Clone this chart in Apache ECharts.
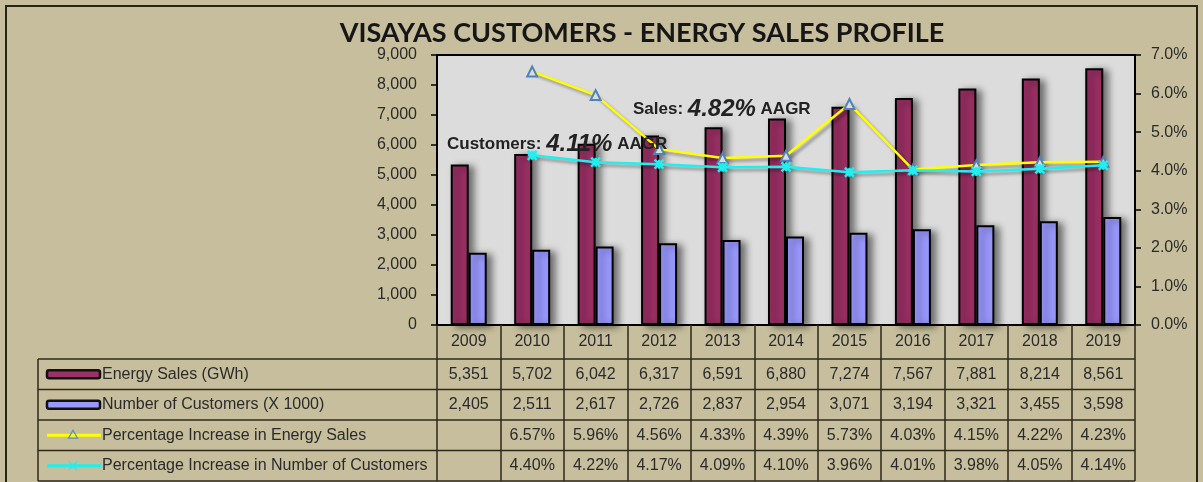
<!DOCTYPE html>
<html>
<head>
<meta charset="utf-8">
<script src="https://cdn.jsdelivr.net/npm/echarts@6/dist/echarts.min.js"></script>
<style>
  html, body { margin: 0; padding: 0; background: #c6be9c; }
  #chart { width: 1203px; height: 482px; }
</style>
</head>
<body>
<div id="chart"></div>
<script>
// values
const years = ['2009', '2010', '2011', '2012', '2013', '2014', '2015', '2016', '2017', '2018', '2019']
const energySales = [5351, 5702, 6042, 6317, 6591, 6880, 7274, 7567, 7881, 8214, 8561]
const customers = [2405, 2511, 2617, 2726, 2837, 2954, 3071, 3194, 3321, 3455, 3598]
const salesGrowth = [null, 6.57, 5.96, 4.56, 4.33, 4.39, 5.73, 4.03, 4.15, 4.22, 4.23]
const customerGrowth = [null, 4.40, 4.22, 4.17, 4.09, 4.10, 3.96, 4.01, 3.98, 4.05, 4.14]
const seriesNames = [
  'Energy Sales (GWh)',
  'Number of Customers (X 1000)',
  'Percentage Increase in Energy Sales',
  'Percentage Increase in Number of Customers'
]

// layout
const grid = { left: 437, top: 55, width: 698, height: 270 }
const tableLeft = 38
const yearRowH = 34
const rowH = 30.5
const lineColor = '#2e281a'
const textColor = '#2b2b2b'
const font = '"Liberation Sans", Arial, sans-serif'
const bottom = grid.top + grid.height

const fmtInt = v => v.toLocaleString('en-US')
const fmtPct = v => (v == null ? '' : v.toFixed(2) + '%')

const rows = [
  { cells: energySales.map(fmtInt), icon: 'bar', color: '#993366' },
  { cells: customers.map(fmtInt), icon: 'bar', color: '#9999ff' },
  { cells: salesGrowth.map(fmtPct), icon: 'tri', color: '#ffff00' },
  { cells: customerGrowth.map(fmtPct), icon: 'star', color: '#22eeee' }
]

const starPath = 'path://M0,0L10,10M10,0L0,10M5,0L5,10M0,5L10,5'

const labelStyle = { color: textColor, fontSize: 16, fontFamily: font }

// one extra category axis per table row, so the cells sit on the x scale
const rowAxes = rows.map((r, i) => ({
  type: 'category',
  data: years,
  position: 'bottom',
  offset: yearRowH + i * rowH,
  axisLine: { show: false },
  axisTick: { show: false },
  axisLabel: Object.assign({
    interval: 0, margin: rowH / 2, verticalAlign: 'middle',
    formatter: (v, idx) => r.cells[idx]
  }, labelStyle)
}))

function tableGraphics() {
  const els = []
  const right = grid.left + grid.width
  const tableBottom = bottom + yearRowH + rows.length * rowH
  for (let i = 0; i <= rows.length; i++) {
    const y = bottom + yearRowH + i * rowH
    els.push({ type: 'line', shape: { x1: tableLeft, y1: y, x2: right, y2: y }, style: { stroke: lineColor, lineWidth: 1.5 } })
  }
  els.push({ type: 'line', shape: { x1: tableLeft, y1: bottom + yearRowH, x2: tableLeft, y2: tableBottom }, style: { stroke: lineColor, lineWidth: 1.5 } })
  rows.forEach((r, i) => {
    const cy = bottom + yearRowH + i * rowH + rowH / 2
    if (r.icon === 'bar') {
      els.push({ type: 'rect', shape: { x: 47, y: cy - 4, width: 53, height: 8, r: 2 }, style: { fill: r.color, stroke: '#111', lineWidth: 2.5 } })
    } else {
      els.push({ type: 'line', shape: { x1: 47, y1: cy, x2: 101, y2: cy }, style: { stroke: r.color, lineWidth: 3 } })
      if (r.icon === 'tri') {
        els.push({ type: 'polygon', shape: { points: [[73, cy - 5], [77.5, cy + 3], [68.5, cy + 3]] }, style: { fill: 'rgba(0,0,0,0)', stroke: '#5b8db8', lineWidth: 1.2 } })
      } else {
        els.push({ type: 'polyline', shape: { points: [[69, cy - 4], [77, cy + 4]] }, style: { stroke: r.color, lineWidth: 1.5 } })
        els.push({ type: 'polyline', shape: { points: [[77, cy - 4], [69, cy + 4]] }, style: { stroke: r.color, lineWidth: 1.5 } })
      }
    }
    els.push({ type: 'text', x: 102, y: cy, style: { text: seriesNames[i], fill: textColor, font: '16px ' + font, verticalAlign: 'middle' } })
  })
  return els
}

function aagrText(x, y, label, value) {
  return {
    type: 'text', x: x, y: y,
    style: {
      text: '{a|' + label + ' }{b|' + value + '}{a| AAGR}',
      verticalAlign: 'bottom',
      rich: {
        a: { fontFamily: font, fontWeight: 'bold', fontSize: 17, fill: '#222', lineHeight: 22 },
        b: { fontFamily: font, fontWeight: 'bold', fontStyle: 'italic', fontSize: 24, fill: '#222', lineHeight: 22 }
      }
    },
    z: 10
  }
}

const chart = echarts.init(document.getElementById('chart'))

chart.setOption({
  backgroundColor: '#c6be9c',
  animation: false,
  title: {
    text: 'VISAYAS CUSTOMERS - ENERGY SALES PROFILE',
    left: 637, top: 15, textAlign: 'center',
    textStyle: { fontFamily: 'Lato, sans-serif', fontWeight: 'bold', fontSize: 27, color: '#161616' }
  },
  grid: Object.assign({ show: true, backgroundColor: '#dcdcdc', borderColor: '#000', borderWidth: 2 }, grid),
  xAxis: [{
    type: 'category',
    data: years,
    axisLine: { lineStyle: { color: '#000', width: 2 } },
    axisTick: { show: true, interval: 0, length: yearRowH + rows.length * rowH, lineStyle: { color: lineColor, width: 1.5 } },
    axisLabel: Object.assign({ interval: 0, margin: yearRowH / 2, verticalAlign: 'middle' }, labelStyle)
  }].concat(rowAxes),
  yAxis: [{
    type: 'value', min: 0, max: 9000, interval: 1000,
    axisLine: { show: true, lineStyle: { color: '#000', width: 2 } },
    axisTick: { show: true, length: 6, lineStyle: { color: '#000', width: 1.5 } },
    splitLine: { show: false },
    axisLabel: Object.assign({ margin: 20, formatter: fmtInt }, labelStyle)
  }, {
    type: 'value', min: 0, max: 7, interval: 1, position: 'right',
    axisLine: { show: true, lineStyle: { color: '#000', width: 2 } },
    axisTick: { show: true, length: 6, lineStyle: { color: '#000', width: 1.5 } },
    splitLine: { show: false },
    axisLabel: Object.assign({ margin: 16, formatter: v => v.toFixed(1) + '%' }, labelStyle)
  }],
  series: [{
    name: seriesNames[0], type: 'bar', data: energySales, barWidth: 18, barGap: '0%',
    itemStyle: { color: '#9b2f64', borderColor: '#000', borderWidth: 2, shadowColor: 'rgba(0,0,0,0.5)', shadowBlur: 7, shadowOffsetX: 5, shadowOffsetY: 2 }
  }, {
    name: seriesNames[1], type: 'bar', data: customers, barWidth: 18,
    itemStyle: { color: '#9999ff', borderColor: '#000', borderWidth: 2, shadowColor: 'rgba(0,0,0,0.5)', shadowBlur: 7, shadowOffsetX: 5, shadowOffsetY: 2 }
  }, {
    name: seriesNames[2], type: 'line', yAxisIndex: 1, data: salesGrowth, z: 5,
    symbol: 'triangle', symbolSize: 10,
    lineStyle: { color: '#ffff00', width: 2.5, shadowColor: 'rgba(0,0,0,0.35)', shadowBlur: 3, shadowOffsetX: 3, shadowOffsetY: 3 },
    itemStyle: { color: '#dcdcdc', borderColor: '#4f81bd', borderWidth: 2 }
  }, {
    name: seriesNames[3], type: 'line', yAxisIndex: 1, data: customerGrowth, z: 6,
    symbol: starPath, symbolSize: 9,
    lineStyle: { color: '#22eeee', width: 2.5, shadowColor: 'rgba(0,0,0,0.35)', shadowBlur: 3, shadowOffsetX: 3, shadowOffsetY: 3 },
    itemStyle: { color: '#22eeee', borderColor: '#22eeee', borderWidth: 2.5 }
  }],
  graphic: [
    { type: 'rect', shape: { x: 6, y: 6, width: 1191, height: 500 }, style: { fill: 'none', stroke: '#2a2418', lineWidth: 2 }, z: 100 },
    aagrText(447, 155, 'Customers:', '4.11%'),
    aagrText(633, 120, 'Sales:', '4.82%')
  ].concat(tableGraphics())
})
</script>
</body>
</html>
